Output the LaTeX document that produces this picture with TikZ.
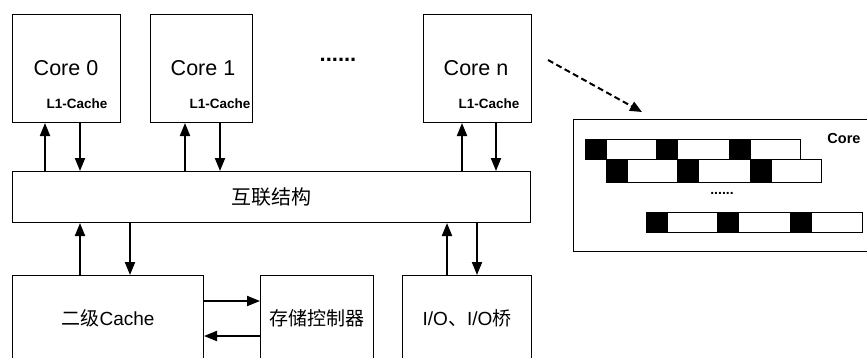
\documentclass[tikz,border=0pt]{standalone}
\usepackage{fontspec}
\setmainfont{Liberation Sans}
\newfontfamily\cjk{Noto Sans CJK SC}
\usetikzlibrary{arrows.meta}
\begin{document}
\begin{tikzpicture}[x=1pt,y=-1pt,
  box/.style={draw, line width=1pt, inner sep=0pt, anchor=north west},
  arr/.style={line width=2pt, -{Triangle[length=13pt,width=10pt]}},
  darr/.style={line width=2pt, dash pattern=on 6pt off 3.5pt, -{Triangle[length=12pt,width=10pt]}},
  big/.style={font=\fontsize{21.5}{24}\selectfont},
  small/.style={font=\bfseries\fontsize{13.5}{15}\selectfont},
  mid/.style={font=\fontsize{19}{22}\selectfont},
  blk/.style={fill=black, draw=black, line width=0.6pt},
  wht/.style={fill=white, draw=black, line width=0.9pt}]
\useasboundingbox (0,0) rectangle (867,357);
\begin{scope}
\clip (-5,-5) rectangle (867,357);
% core boxes
\node[box, minimum width=108pt, minimum height=108pt] (core0) at (12,14) {};
\node[box, minimum width=102pt, minimum height=108pt] (core1) at (150,14) {};
\node[box, minimum width=108pt, minimum height=108pt] (coren) at (423,14) {};
\node[big] (t0) at (66,68) {Core 0};
\node[big] (t1) at (203,68) {Core 1};
\node[big] (tn) at (476,68) {Core n};
\node[small] (l0) at (77,104) {L1-Cache};
\node[small] (l1) at (220,104) {L1-Cache};
\node[small] (ln) at (489,104) {L1-Cache};
\node[font=\bfseries\fontsize{22}{24}\selectfont] (dots) at (338,60) {......};
% bus
\node[box, minimum width=518pt, minimum height=51pt, font=\cjk\fontsize{20}{24}\selectfont] (bus) at (12,171) {互联结构};
% bottom boxes
\node[box, minimum width=191pt, minimum height=86pt, mid] (l2) at (12,275) {{\cjk 二级}Cache};
\node[box, minimum width=113pt, minimum height=86pt, font=\cjk\fontsize{19}{22}\selectfont] (mc) at (260,275) {存储控制器};
\node[box, minimum width=129pt, minimum height=86pt, mid] (io) at (402,275) {I/O{\cjk 、}I/O{\cjk 桥}};
% arrows cores <-> bus
\draw[arr] (bus.north -| 45,0) -- (core0.south -| 45,0);
\draw[arr] (core0.south -| 80,0) -- (bus.north -| 80,0);
\draw[arr] (bus.north -| 185,0) -- (core1.south -| 185,0);
\draw[arr] (core1.south -| 220,0) -- (bus.north -| 220,0);
\draw[arr] (bus.north -| 462,0) -- (coren.south -| 462,0);
\draw[arr] (coren.south -| 496,0) -- (bus.north -| 496,0);
% bus <-> bottom
\draw[arr] (l2.north -| 80,0) -- (bus.south -| 80,0);
\draw[arr] (bus.south -| 130,0) -- (l2.north -| 130,0);
\draw[arr] (io.north -| 447,0) -- (bus.south -| 447,0);
\draw[arr] (bus.south -| 477,0) -- (io.north -| 477,0);
% l2 <-> mc
\draw[arr] (l2.east |- 0,301) -- (mc.west |- 0,301);
\draw[arr] (mc.west |- 0,336) -- (l2.east |- 0,336);
% detail box (open on the right: it runs past the picture edge)
\node[anchor=north west, inner sep=0pt, minimum width=310pt, minimum height=132pt] (det) at (573,119) {};
\draw[line width=1pt] (det.north east) -- (det.north west) -- (det.south west) -- (det.south east);
\coordinate (ds) at (548,60);
\coordinate (de) at (642,112);
\draw[darr] (ds) -- (de);
\node[font=\bfseries\fontsize{14.5}{16}\selectfont] (dcore) at (844,139) {Core};
% row 1
\draw[wht] (606,139) rectangle (656,159);
\draw[wht] (677,139) rectangle (729,159);
\draw[wht] (750,139) rectangle (800,159);
\draw[blk] (585,139) rectangle (606,159);
\draw[blk] (656,139) rectangle (677,159);
\draw[blk] (729,139) rectangle (750,159);
% row 2
\draw[wht] (627,159) rectangle (677,182);
\draw[wht] (698,159) rectangle (750,182);
\draw[wht] (771,159) rectangle (821,182);
\draw[blk] (606,159) rectangle (627,182);
\draw[blk] (677,159) rectangle (698,182);
\draw[blk] (750,159) rectangle (771,182);
\node[font=\bfseries\fontsize{14}{16}\selectfont] (ddots) at (722,193) {......};
% row 3
\draw[wht] (667,212) rectangle (717,232);
\draw[wht] (738,212) rectangle (790,232);
\draw[wht] (811,212) rectangle (862,232);
\draw[blk] (646,212) rectangle (667,232);
\draw[blk] (717,212) rectangle (738,232);
\draw[blk] (790,212) rectangle (811,232);
\end{scope}
\end{tikzpicture}
\end{document}
